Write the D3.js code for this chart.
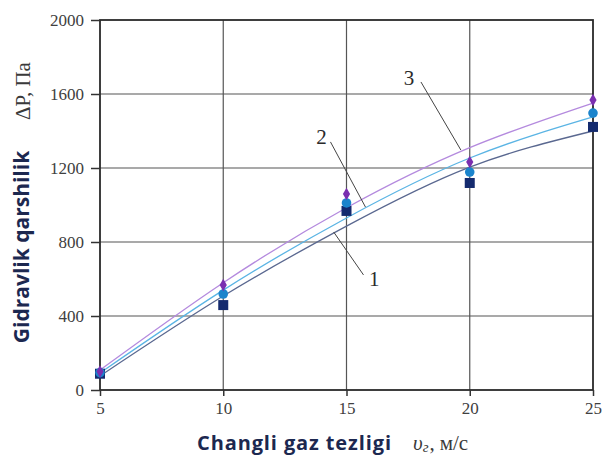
<!DOCTYPE html>
<html>
<head>
<meta charset="utf-8">
<script src="https://cdn.jsdelivr.net/npm/d3@7"></script>
<style>
  body { margin: 0; background: #fff; }
  svg { display: block; }
</style>
</head>
<body>
<svg id="chart" width="603" height="457"></svg>
<script>
// measured points (gas speed, pressure drop)
var speeds = [5, 10, 15, 20, 25];
var series1 = [88, 459, 968, 1119, 1422];   // squares
var series2 = [94, 519, 1011, 1178, 1497];  // circles
var series3 = [100, 568, 1059, 1232, 1568]; // diamonds

// trend curves
var trend1 = [76, 508, 886, 1205, 1400];
var trend2 = [92, 540, 930, 1254, 1476];
var trend3 = [108, 580, 985, 1310, 1551];

var xTicks = [5, 10, 15, 20, 25];
var yTicks = [0, 400, 800, 1200, 1600, 2000];

// curve number labels: text position and leader line ends (data units)
var curveLabels = [
  { text: '1', x: 16.13, y: 560, x1: 15.69, y1: 622, x2: 14.48, y2: 854 },
  { text: '2', x: 13.99, y: 1330, x1: 14.35, y1: 1341, x2: 15.77, y2: 989 },
  { text: '3', x: 17.54, y: 1650, x1: 18.02, y1: 1665, x2: 19.64, y2: 1297 }
];

var serif = '"Liberation Serif", "Times New Roman", serif';
var sans = '"Open Sans", "Noto Sans", sans-serif';

var svg = d3.select('#chart');

var x = d3.scaleLinear().domain([5, 25]).range([100, 593]);
var y = d3.scaleLinear().domain([0, 2000]).range([390, 20]);

// grid
var grid = svg.append('g').attr('class', 'grid');
grid.selectAll('.vgrid').data(xTicks.slice(1, -1)).enter().append('line')
  .attr('x1', function (d) { return x(d); })
  .attr('x2', function (d) { return x(d); })
  .attr('y1', y(0)).attr('y2', y(2000))
  .attr('stroke', '#555').attr('stroke-width', 1.2);
grid.selectAll('.hgrid').data(yTicks.slice(1, -1)).enter().append('line')
  .attr('x1', x(5)).attr('x2', x(25))
  .attr('y1', function (d) { return y(d); })
  .attr('y2', function (d) { return y(d); })
  .attr('stroke', '#555').attr('stroke-width', 1.2);

// frame
svg.append('rect')
  .attr('x', x(5)).attr('y', y(2000))
  .attr('width', x(25) - x(5)).attr('height', y(0) - y(2000))
  .attr('fill', 'none').attr('stroke', '#2a2a2a').attr('stroke-width', 1.8);

// axes
var xAxis = d3.axisBottom(x).tickValues(xTicks).tickFormat(d3.format('d')).tickSize(6).tickPadding(6);
var yAxis = d3.axisLeft(y).tickValues(yTicks).tickFormat(d3.format('d')).tickSize(9).tickPadding(7);

var gx = svg.append('g').attr('transform', 'translate(0,' + y(0) + ')').call(xAxis);
var gy = svg.append('g').attr('transform', 'translate(' + x(5) + ',0)').call(yAxis);

[gx, gy].forEach(function (g) {
  g.attr('font-family', serif).attr('font-size', 17);
  g.select('.domain').remove();
  g.selectAll('.tick line').attr('stroke', '#333').attr('stroke-width', 1.5);
  g.selectAll('.tick text').attr('fill', '#404040');
});
gy.selectAll('.tick text').attr('dy', '0.34em');

// trend curves
var trendLine = d3.line()
  .x(function (d, i) { return x(speeds[i]); })
  .y(function (d) { return y(d); })
  .curve(d3.curveNatural);

var trends = [
  { values: trend1, color: '#5a6890' },
  { values: trend2, color: '#5ab4e4' },
  { values: trend3, color: '#b48ade' }
];

svg.selectAll('.trend').data(trends).enter().append('path')
  .attr('class', 'trend')
  .attr('d', function (d) { return trendLine(d.values); })
  .attr('fill', 'none')
  .attr('stroke', function (d) { return d.color; })
  .attr('stroke-width', 1.3);

// markers
svg.selectAll('.sq').data(series1).enter().append('rect')
  .attr('x', function (d, i) { return x(speeds[i]) - 5; })
  .attr('y', function (d) { return y(d) - 5; })
  .attr('width', 10).attr('height', 10)
  .attr('fill', '#142a6e');

svg.selectAll('.ci').data(series2).enter().append('circle')
  .attr('cx', function (d, i) { return x(speeds[i]); })
  .attr('cy', function (d) { return y(d); })
  .attr('r', 4.8)
  .attr('fill', '#1b84cc');

var diamond = d3.symbol().type(d3.symbolDiamond).size(45);
svg.selectAll('.di').data(series3).enter().append('path')
  .attr('transform', function (d, i) { return 'translate(' + x(speeds[i]) + ',' + y(d) + ')'; })
  .attr('d', diamond)
  .attr('fill', '#7a2fb0');

// curve numbers with leader lines
svg.selectAll('.leader').data(curveLabels).enter().append('line')
  .attr('x1', function (d) { return x(d.x1); })
  .attr('y1', function (d) { return y(d.y1); })
  .attr('x2', function (d) { return x(d.x2); })
  .attr('y2', function (d) { return y(d.y2); })
  .attr('stroke', '#444').attr('stroke-width', 1);

svg.selectAll('.cnum').data(curveLabels).enter().append('text')
  .attr('x', function (d) { return x(d.x); })
  .attr('y', function (d) { return y(d.y); })
  .attr('text-anchor', 'middle')
  .attr('fill', '#2a2a2a')
  .style('font-family', serif)
  .style('font-size', '21px')
  .text(function (d) { return d.text; });

// axis titles
svg.append('text')
  .attr('x', 197).attr('y', 450)
  .attr('font-weight', 'bold').attr('fill', '#1c2850')
  .attr('textLength', 194).attr('lengthAdjust', 'spacing')
  .style('font-family', sans).style('font-size', '20px')
  .text('Changli gaz tezligi');

var unit = svg.append('text')
  .attr('x', 413).attr('y', 450)
  .attr('fill', '#3a3a3a')
  .style('font-family', serif).style('font-size', '21px');
unit.append('tspan').style('font-style', 'italic').text('υ');
unit.append('tspan').attr('dy', 2).style('font-style', 'italic').style('font-size', '15px').text('г');
unit.append('tspan').attr('dy', -2).attr('dx', 1).text(',');
unit.append('tspan').attr('dx', 5).text('м/с');

svg.append('text')
  .attr('transform', 'translate(29,247) rotate(-90)')
  .attr('text-anchor', 'middle')
  .attr('font-weight', 'bold')
  .attr('fill', '#1c2850')
  .style('font-family', sans)
  .style('font-size', '21px')
  .text('Gidravlik qarshilik');

svg.append('text')
  .attr('transform', 'translate(30,91) rotate(-90)')
  .attr('text-anchor', 'middle')
  .attr('fill', '#3a3a3a')
  .style('font-family', serif)
  .style('font-size', '21px')
  .text('ΔP, Па');
</script>
</body>
</html>
